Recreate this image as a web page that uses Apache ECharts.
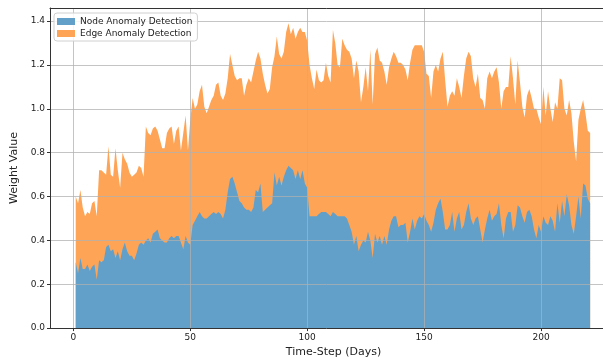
<!DOCTYPE html>
<html>
<head>
<meta charset="utf-8">
<script src="https://cdn.jsdelivr.net/npm/echarts@6/dist/echarts.min.js"></script>
<style>
  html, body { margin: 0; padding: 0; background: #fff; }
  #chart { width: 603px; height: 363px; }
</style>
</head>
<body>
<div id="chart"></div>
<script>
// weights, one value per day (days 1..221)
const nodeWeights = [
  0.30, 0.25, 0.32, 0.27, 0.27, 0.29, 0.26, 0.28, 0.29, 0.22,
  0.31, 0.30, 0.31, 0.37, 0.38, 0.35, 0.36, 0.32, 0.35, 0.31,
  0.36, 0.39, 0.35, 0.33, 0.33, 0.31, 0.34, 0.38, 0.39, 0.38,
  0.40, 0.41, 0.39, 0.43, 0.44, 0.45, 0.41, 0.40, 0.39, 0.39,
  0.41, 0.42, 0.41, 0.42, 0.42, 0.39, 0.36, 0.42, 0.39, 0.38,
  0.47, 0.49, 0.51, 0.53, 0.51, 0.50, 0.50, 0.51, 0.52, 0.53,
  0.52, 0.53, 0.52, 0.50, 0.54, 0.62, 0.68, 0.69, 0.66, 0.62,
  0.58, 0.57, 0.55, 0.54, 0.54, 0.53, 0.55, 0.63, 0.62, 0.66,
  0.53, 0.54, 0.55, 0.56, 0.57, 0.71, 0.65, 0.69, 0.65, 0.69,
  0.72, 0.74, 0.73, 0.72, 0.68, 0.72, 0.68, 0.72, 0.66, 0.64,
  0.51, 0.51, 0.51, 0.51, 0.52, 0.53, 0.53, 0.53, 0.52, 0.51,
  0.53, 0.52, 0.51, 0.51, 0.51, 0.51, 0.50, 0.47, 0.44, 0.38,
  0.42, 0.35, 0.38, 0.40, 0.39, 0.44, 0.40, 0.32, 0.43, 0.39,
  0.42, 0.38, 0.42, 0.38, 0.45, 0.49, 0.51, 0.51, 0.46, 0.47,
  0.47, 0.48, 0.39, 0.44, 0.50, 0.45, 0.49, 0.51, 0.50, 0.52,
  0.49, 0.47, 0.44, 0.48, 0.54, 0.57, 0.59, 0.53, 0.45, 0.45,
  0.47, 0.53, 0.44, 0.50, 0.53, 0.45, 0.47, 0.53, 0.57, 0.50,
  0.47, 0.50, 0.51, 0.45, 0.39, 0.45, 0.50, 0.54, 0.49, 0.51,
  0.52, 0.57, 0.47, 0.41, 0.50, 0.53, 0.53, 0.44, 0.47, 0.56,
  0.55, 0.51, 0.48, 0.53, 0.54, 0.51, 0.45, 0.41, 0.47, 0.44,
  0.51, 0.48, 0.47, 0.51, 0.49, 0.44, 0.57, 0.48, 0.58, 0.51,
  0.61, 0.56, 0.47, 0.43, 0.51, 0.60, 0.50, 0.66, 0.65, 0.59,
  0.57
];

const edgeWeights = [
  0.30, 0.32, 0.31, 0.28, 0.24, 0.24, 0.26, 0.29, 0.29, 0.29,
  0.41, 0.42, 0.40, 0.33, 0.45, 0.35, 0.33, 0.50, 0.37, 0.33,
  0.44, 0.38, 0.40, 0.38, 0.36, 0.39, 0.37, 0.36, 0.34, 0.31,
  0.52, 0.48, 0.49, 0.48, 0.48, 0.45, 0.45, 0.42, 0.43, 0.50,
  0.50, 0.50, 0.43, 0.48, 0.50, 0.42, 0.53, 0.55, 0.42, 0.57,
  0.58, 0.51, 0.51, 0.55, 0.60, 0.51, 0.48, 0.50, 0.52, 0.53,
  0.59, 0.59, 0.54, 0.54, 0.53, 0.52, 0.57, 0.51, 0.49, 0.51,
  0.56, 0.57, 0.51, 0.57, 0.60, 0.59, 0.62, 0.59, 0.64, 0.57,
  0.63, 0.57, 0.52, 0.53, 0.62, 0.53, 0.68, 0.56, 0.58, 0.57,
  0.63, 0.65, 0.61, 0.65, 0.64, 0.63, 0.69, 0.63, 0.69, 0.67,
  0.69, 0.63, 0.58, 0.67, 0.61, 0.59, 0.60, 0.68, 0.63, 0.61,
  0.83, 0.78, 0.69, 0.68, 0.81, 0.78, 0.77, 0.79, 0.79, 0.76,
  0.80, 0.82, 0.65, 0.70, 0.80, 0.64, 0.87, 0.70, 0.82, 0.89,
  0.80, 0.83, 0.75, 0.73, 0.74, 0.74, 0.75, 0.73, 0.75, 0.74,
  0.73, 0.70, 0.74, 0.77, 0.77, 0.84, 0.80, 0.78, 0.79, 0.74,
  0.67, 0.68, 0.61, 0.69, 0.66, 0.60, 0.64, 0.73, 0.68, 0.56,
  0.59, 0.55, 0.62, 0.64, 0.57, 0.60, 0.68, 0.70, 0.69, 0.74,
  0.67, 0.60, 0.65, 0.60, 0.65, 0.55, 0.64, 0.63, 0.65, 0.66,
  0.67, 0.55, 0.53, 0.67, 0.60, 0.57, 0.71, 0.70, 0.55, 0.66,
  0.57, 0.50, 0.48, 0.53, 0.55, 0.54, 0.55, 0.59, 0.49, 0.49,
  0.59, 0.49, 0.61, 0.49, 0.45, 0.59, 0.43, 0.66, 0.55, 0.49,
  0.36, 0.48, 0.51, 0.42, 0.25, 0.35, 0.50, 0.38, 0.33, 0.31,
  0.32
];

const days = nodeWeights.map((_, i) => i + 1);
const seriesNames = ["Node Anomaly Detection", "Edge Anomaly Detection"];

// stacked table: the edge band sits on top of the node band
const nodePoints = days.map((d, i) => [d, nodeWeights[i]]);
const stackedTop = days.map((d, i) => [d, +(nodeWeights[i] + edgeWeights[i]).toFixed(3)]);

const font = "DejaVu Sans";
const gridColor = "rgba(176,176,176,0.75)";

const chart = echarts.init(document.getElementById("chart"));
chart.setOption({
  animation: false,
  textStyle: { fontFamily: font },
  grid: { left: 50, right: 0, top: 8, bottom: 31 },
  legend: {
    data: seriesNames,
    orient: "vertical",
    left: 54,
    top: 13,
    z: 10,
    icon: "rect",
    itemWidth: 18,
    itemHeight: 7,
    itemGap: 3,
    padding: [4, 5, 3, 3],
    backgroundColor: "rgba(255,255,255,0.85)",
    borderColor: "#d0d0d0",
    borderWidth: 1,
    borderRadius: 3,
    textStyle: { fontFamily: font, fontSize: 9, color: "#222" },
  },
  xAxis: [
    {
      type: "value",
      min: -10,
      max: 226.5,
      minInterval: 50,
      maxInterval: 50,
      z: 5,
      name: "Time-Step (Days)",
      nameLocation: "middle",
      nameGap: 17,
      nameTextStyle: { fontFamily: font, fontSize: 11, color: "#222", padding: [0, 0, 0, 14] },
      axisLine: { show: true, onZero: false, lineStyle: { color: "#333", width: 1 } },
      axisTick: { show: true, length: 3, lineStyle: { color: "#333" } },
      axisLabel: { fontFamily: font, fontSize: 9, color: "#222", margin: 5, showMinLabel: false, showMaxLabel: false },
      splitLine: { show: true, lineStyle: { color: gridColor, width: 1 } },
    },
    {
      type: "value",
      position: "top",
      min: -10,
      max: 226.5,
      z: 5,
      axisLine: { show: true, onZero: false, lineStyle: { color: "#333", width: 1 } },
      axisTick: { show: false },
      axisLabel: { show: false },
      splitLine: { show: false },
    },
  ],
  yAxis: {
    type: "value",
    min: 0,
    max: 1.46,
    interval: 0.2,
    z: 5,
    name: "Weight Value",
    nameLocation: "middle",
    nameGap: 28,
    nameTextStyle: { fontFamily: font, fontSize: 11, color: "#222" },
    axisLine: { show: true, onZero: false, lineStyle: { color: "#333", width: 1 } },
    axisTick: { show: true, length: 3, lineStyle: { color: "#333" } },
    axisLabel: {
      fontFamily: font,
      fontSize: 9,
      color: "#222",
      margin: 5,
      showMaxLabel: false,
      formatter: (v) => v.toFixed(1),
    },
    splitLine: { show: true, lineStyle: { color: gridColor, width: 1 } },
  },
  series: [
    {
      name: seriesNames[1],
      type: "line",
      symbol: "none",
      color: "#fea456",
      z: 1,
      lineStyle: { width: 0 },
      areaStyle: { color: "#fea456", opacity: 1 },
      data: stackedTop,
    },
    {
      name: seriesNames[0],
      type: "line",
      symbol: "none",
      color: "#62a0ca",
      z: 2,
      lineStyle: { width: 0 },
      areaStyle: { color: "#62a0ca", opacity: 1 },
      data: nodePoints,
    },
  ],
});
</script>
</body>
</html>
